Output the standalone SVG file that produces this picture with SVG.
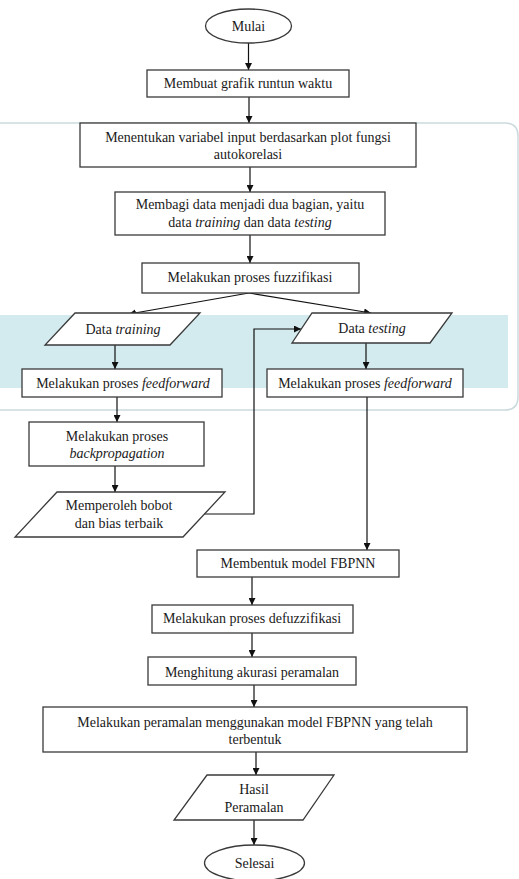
<svg xmlns="http://www.w3.org/2000/svg" width="519" height="879" viewBox="0 0 519 879">
<style>
  .box { fill: #ffffff; stroke: #3a3a3a; stroke-width: 1.3; }
  .lbl { font-family: "Liberation Serif", "Times New Roman", "DejaVu Serif", serif; font-size: 14px; fill: #1a1a1a; text-anchor: middle; }
  .it { font-style: italic; }
  .conn { fill: none; stroke: #111111; stroke-width: 1.2; }
</style>
<defs>
  <marker id="arr" markerUnits="userSpaceOnUse" markerWidth="8" markerHeight="7" refX="7" refY="3.5" orient="auto">
    <path d="M0,0 L7,3.5 L0,7 z" fill="#111111"/>
  </marker>
</defs>
<rect x="0" y="0" width="519" height="879" fill="#ffffff"/>

<g id="background">
  <path d="M0,123 H505 Q518,123 518,136 V397 Q518,410 505,410 H0" fill="none" stroke="#cbdadd" stroke-width="1.5"/>
  <rect x="0" y="315" width="508" height="73" fill="#d3eaee"/>
</g>

<g id="connectors">
  <line class="conn" x1="248.5" y1="43" x2="248.5" y2="70" marker-end="url(#arr)"/>
  <line class="conn" x1="249" y1="97" x2="249" y2="123" marker-end="url(#arr)"/>
  <line class="conn" x1="250" y1="167" x2="250" y2="192" marker-end="url(#arr)"/>
  <line class="conn" x1="250" y1="235" x2="250" y2="263" marker-end="url(#arr)"/>
  <line class="conn" x1="249" y1="293" x2="129" y2="314" marker-end="url(#arr)"/>
  <line class="conn" x1="249" y1="293" x2="371" y2="313" marker-end="url(#arr)"/>
  <line class="conn" x1="115" y1="345" x2="115" y2="369" marker-end="url(#arr)"/>
  <line class="conn" x1="366" y1="343" x2="366" y2="369" marker-end="url(#arr)"/>
  <line class="conn" x1="117" y1="397" x2="117" y2="422" marker-end="url(#arr)"/>
  <line class="conn" x1="115" y1="466" x2="115" y2="492" marker-end="url(#arr)"/>
  <polyline class="conn" points="204,514 254,514 254,329 301,329" marker-end="url(#arr)"/>
  <line class="conn" x1="367" y1="397" x2="367" y2="550" marker-end="url(#arr)"/>
  <line class="conn" x1="252" y1="577" x2="252" y2="605" marker-end="url(#arr)"/>
  <line class="conn" x1="252" y1="633" x2="252" y2="657" marker-end="url(#arr)"/>
  <line class="conn" x1="254" y1="685" x2="254" y2="707" marker-end="url(#arr)"/>
  <line class="conn" x1="256" y1="752" x2="256" y2="775" marker-end="url(#arr)"/>
  <line class="conn" x1="254" y1="820" x2="254" y2="845" marker-end="url(#arr)"/>
</g>

<g id="mulai">
  <ellipse class="box" cx="248.5" cy="26" rx="43" ry="17"/>
  <text class="lbl" x="248.5" y="30.5">Mulai</text>
</g>
<g id="grafik">
  <rect class="box" x="147" y="70" width="202" height="27"/>
  <text class="lbl" x="248" y="88">Membuat grafik runtun waktu</text>
</g>
<g id="variabel">
  <rect class="box" x="80" y="123" width="336" height="44"/>
  <text class="lbl" x="248" y="141.5">Menentukan variabel input berdasarkan plot fungsi</text>
  <text class="lbl" x="248" y="158.5">autokorelasi</text>
</g>
<g id="membagi">
  <rect class="box" x="115" y="192" width="270" height="43"/>
  <text class="lbl" x="250" y="208.5">Membagi data menjadi dua bagian, yaitu</text>
  <text class="lbl" x="250" y="226.5">data <tspan class="it">training</tspan> dan data <tspan class="it">testing</tspan></text>
</g>
<g id="fuzzifikasi">
  <rect class="box" x="142" y="263" width="217" height="30"/>
  <text class="lbl" x="250" y="281.5">Melakukan proses fuzzifikasi</text>
</g>
<g id="data-training">
  <polygon class="box" points="75,313 200,313 170,345 45,345"/>
  <text class="lbl" x="123" y="334">Data <tspan class="it">training</tspan></text>
</g>
<g id="data-testing">
  <polygon class="box" points="312,313 452,313 430,343 292,343"/>
  <text class="lbl" x="372" y="333">Data <tspan class="it">testing</tspan></text>
</g>
<g id="feedforward-training">
  <rect class="box" x="22" y="369" width="200" height="28"/>
  <text class="lbl" x="123" y="387.5">Melakukan proses <tspan class="it">feedforward</tspan></text>
</g>
<g id="feedforward-testing">
  <rect class="box" x="267" y="369" width="196" height="28"/>
  <text class="lbl" x="365" y="387.5">Melakukan proses <tspan class="it">feedforward</tspan></text>
</g>
<g id="backpropagation">
  <rect class="box" x="29" y="422" width="175" height="44"/>
  <text class="lbl" x="117" y="440.5">Melakukan proses</text>
  <text class="lbl it" x="117" y="457.5">backpropagation</text>
</g>
<g id="bobot">
  <polygon class="box" points="57,492 225,492 183,537 15,537"/>
  <text class="lbl" x="119" y="509.5">Memperoleh bobot</text>
  <text class="lbl" x="119" y="527.5">dan bias terbaik</text>
</g>
<g id="model">
  <rect class="box" x="197" y="550" width="202" height="27"/>
  <text class="lbl" x="298" y="567.5">Membentuk model FBPNN</text>
</g>
<g id="defuzzifikasi">
  <rect class="box" x="152" y="605" width="201" height="28"/>
  <text class="lbl" x="252" y="623">Melakukan proses defuzzifikasi</text>
</g>
<g id="akurasi">
  <rect class="box" x="148" y="657" width="208" height="28"/>
  <text class="lbl" x="252" y="677">Menghitung akurasi peramalan</text>
</g>
<g id="peramalan">
  <rect class="box" x="43" y="707" width="424" height="45"/>
  <text class="lbl" x="255" y="726.5">Melakukan peramalan menggunakan model FBPNN yang telah</text>
  <text class="lbl" x="255" y="743.5">terbentuk</text>
</g>
<g id="hasil">
  <polygon class="box" points="207,775 334,775 303,820 174,820"/>
  <text class="lbl" x="254" y="793.5">Hasil</text>
  <text class="lbl" x="254" y="811.5">Peramalan</text>
</g>
<g id="selesai">
  <ellipse class="box" cx="254.5" cy="863" rx="50" ry="18"/>
  <text class="lbl" x="254.5" y="867.5">Selesai</text>
</g>
</svg>
